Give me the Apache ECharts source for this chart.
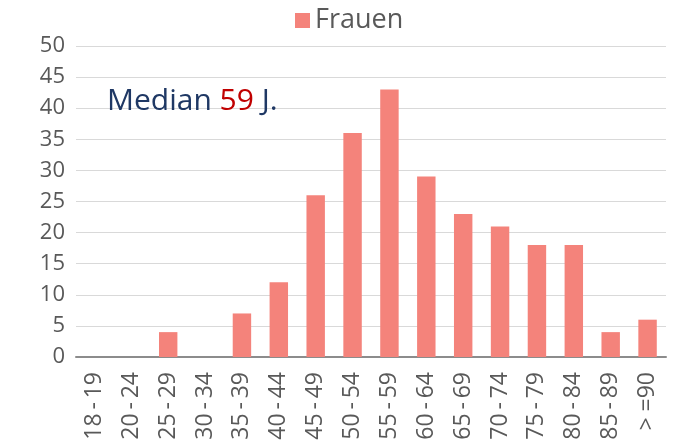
<!DOCTYPE html>
<html>
<head>
<meta charset="utf-8">
<script src="https://cdn.jsdelivr.net/npm/echarts@6/dist/echarts.min.js"></script>
<style>
  html, body { margin: 0; padding: 0; background: #ffffff; }
  #chart { width: 674px; height: 445px; }
</style>
</head>
<body>
<div id="chart"></div>
<script>
  // Altersgruppen und Anzahl Frauen
  var categories = ['18-19', '20-24', '25-29', '30-34', '35-39', '40-44', '45-49', '50-54',
    '55-59', '60-64', '65-69', '70-74', '75-79', '80-84', '85-89', '> =90'];
  var frauen = [0, 0, 4, 0, 7, 12, 26, 36, 43, 29, 23, 21, 18, 18, 4, 6];
  var medianAge = 59;

  var myChart = echarts.init(document.getElementById('chart'));
  var option = {
    animation: false,
    textStyle: { fontFamily: 'Open Sans' },
    title: {
      left: 102,
      top: 81,
      text: '{a|Median }{b|' + medianAge + '}{a| J.}',
      textStyle: {
        fontWeight: 'normal',
        rich: {
          a: { fontSize: 30, color: '#1f3864', fontFamily: 'Open Sans', fontWeight: 'normal' },
          b: { fontSize: 30, color: '#c00000', fontFamily: 'Open Sans', fontWeight: 'normal' }
        }
      }
    },
    legend: {
      top: 2,
      left: 290,
      itemWidth: 15,
      itemHeight: 15,
      itemGap: 6,
      icon: 'rect',
      textStyle: { fontSize: 27, color: '#595959' },
      data: ['Frauen']
    },
    grid: {
      left: 76,
      right: 8,
      top: 46,
      bottom: 88
    },
    xAxis: {
      type: 'category',
      data: categories,
      axisLine: { lineStyle: { color: '#8c8c8c', width: 2 } },
      axisTick: { show: false },
      axisLabel: {
        rotate: 90,
        interval: 0,
        margin: 15,
        fontSize: 23,
        color: '#595959',
        formatter: function (v) { return v.replace('-', '\u2009-\u2009'); }
      }
    },
    yAxis: {
      type: 'value',
      min: 0,
      max: 50,
      interval: 5,
      axisLine: { show: false },
      axisTick: { show: false },
      axisLabel: { fontSize: 22, color: '#595959', margin: 11 },
      splitLine: { lineStyle: { color: '#d9d9d9', width: 1 } }
    },
    series: [
      {
        name: 'Frauen',
        type: 'bar',
        data: frauen,
        barWidth: '50%',
        itemStyle: { color: '#f4837b' }
      }
    ]
  };
  myChart.setOption(option);
</script>
</body>
</html>
